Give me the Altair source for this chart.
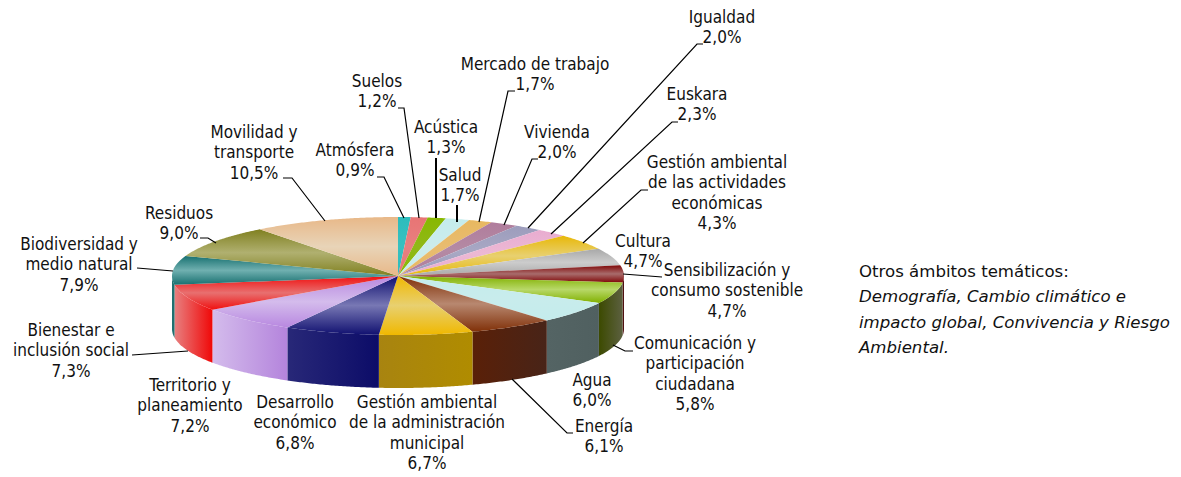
import math
import altair as alt

# ---- data ----
categories = ["Atmósfera", "Suelos", "Acústica", "Salud", "Mercado de trabajo", "Vivienda", "Igualdad", "Euskara",
              "Gestión ambiental\nde las actividades\neconómicas", "Cultura", "Sensibilización y\nconsumo sostenible",
              "Comunicación y\nparticipación\nciudadana", "Agua", "Energía",
              "Gestión ambiental\nde la administración\nmunicipal", "Desarrollo\neconómico", "Territorio y\nplaneamiento",
              "Bienestar e\ninclusión social", "Biodiversidad y\nmedio natural", "Residuos", "Movilidad y\ntransporte"]
values = [0.9, 1.2, 1.3, 1.7, 1.7, 2.0, 2.0, 2.3, 4.3, 4.7, 4.7, 5.8, 6.0, 6.1, 6.7, 6.8, 7.2, 7.3, 7.9, 9.0, 10.5]

# top surface: edge colour, middle colour
top_colors = [("#2cbcbc", "#38c0c0"), ("#e87474", "#e88080"), ("#88b800", "#90b818"), ("#c4ecec", "#ccecec"),
              ("#e8b860", "#e8bc70"), ("#b07c9c", "#b48aa4"), ("#9c9cbc", "#a8a8c4"), ("#e8acd0", "#ecb8d4"),
              ("#e8b808", "#e8d070"), ("#a8a8a8", "#cccccc"), ("#800808", "#a86c6c"), ("#80b000", "#b8d868"),
              ("#c4ecec", "#c8ecec"), ("#803008", "#b88870"), ("#f0b800", "#e8d070"), ("#101070", "#7878b4"),
              ("#b888e0", "#d4bcec"), ("#f01010", "#e87070"), ("#187070", "#70b0b0"), ("#808020", "#b0b070"),
              ("#e8b888", "#e8d4b8")]
# front wall: left colour, right colour
wall_colors = {10: ("#501010", "#501010"), 11: ("#3c4a00", "#5c6040"), 12: ("#546464", "#506060"), 13: ("#5a2008", "#482418"),
               14: ("#a88410", "#b08c00"), 15: ("#282878", "#0c0c68"), 16: ("#d4bcec", "#b484dc"), 17: ("#e88080", "#f00808"),
               18: ("#207070", "#207070")}
note_plain = "Otros ámbitos temáticos:"
note_italic = ["Demografía,  Cambio climático e", "impacto global, Convivencia y Riesgo", "Ambiental."]

# ---- layout, screen pixels ----
M = 8
CX, CY, RX, RY, DEPTH = 398 - M, 276 - M, 226, 59, 53
FONT = "DejaVu Sans Condensed"
FS = 17
NOTE_FONT = "DejaVu Sans"
NOTE_FS = 16.6
LINE = 20.4
label_pos = [(355, 151), (377, 82), (446, 128), (460, 176), (535, 65), (557, 133), (722, 18), (697, 95),
             (717, 163), (643, 242), (727, 271), (695, 344), (592, 381), (604, 427), (427, 403), (295, 403),
             (190, 386), (71, 331), (79, 245), (179, 214), (254, 133)]
leaders = [([(377, 177), (384, 177), (404, 218)], 1.2), ([(398, 108), (404, 108), (419, 218)], 1.2),
           ([(436, 158), (436, 218)], 2), ([(457, 205), (457, 222)], 2),
           ([(515, 91), (508, 91), (479, 222)], 1.2), ([(538, 159), (532, 159), (504, 225)], 1.2),
           ([(703, 44), (697, 44), (528, 228)], 1.2), ([(678, 122), (672, 122), (551, 234)], 1.2),
           ([(648, 190), (641, 190), (583, 243)], 1.2), ([(662, 277), (623, 274)], 1.2),
           ([(633, 351), (625, 351), (613, 345)], 1.2), ([(573, 433), (567, 433), (512, 379)], 1.2),
           ([(200, 238), (208, 238), (216, 243)], 1.2), ([(137, 268), (173, 271)], 1.2),
           ([(132, 355), (188, 351)], 1.2), ([(283, 178), (292, 178), (325, 221)], 1.2)]

total = sum(values)
edges = [0.0]
for v in values:
    edges.append(edges[-1] + v / total * 2 * math.pi)


def pt(t, dy=0.0):
    return [CX + RX * math.sin(t), CY - RY * math.cos(t) + dy]


def arc(a, b, dy=0.0):
    n = max(2, int((b - a) / math.radians(0.5)))
    return [pt(a + (b - a) * i / n, dy) for i in range(n + 1)]


def feature(ring):
    return {"type": "Feature", "properties": {}, "geometry": {"type": "Polygon", "coordinates": [ring + [ring[0]]]}}


proj = alt.Projection(type="identity", scale=1, translate=[0, 0])
layers = []

# walls
for i, (a, b) in enumerate(zip(edges[:-1], edges[1:])):
    lo, hi = max(a, math.pi / 2), min(b, 3 * math.pi / 2)
    if hi <= lo or i not in wall_colors:
        continue
    ring = arc(lo, hi) + arc(lo, hi, DEPTH)[::-1]
    right, left = wall_colors[i][1], wall_colors[i][0]
    grad = {"gradient": "linear", "x1": 0, "x2": 1, "y1": 0, "y2": 0,
            "stops": [{"offset": 0, "color": left}, {"offset": 1, "color": right}]}
    layers.append(alt.Chart(alt.Data(values=[feature(ring)])).mark_geoshape(fill=grad, strokeWidth=0).project(**proj.to_dict()))

# top surface
for i, (a, b) in enumerate(zip(edges[:-1], edges[1:])):
    ring = [[CX, CY]] + arc(a, b)
    e, m = top_colors[i]
    grad = {"gradient": "linear", "x1": 0, "x2": 0, "y1": 0, "y2": 1,
            "stops": [{"offset": 0, "color": e}, {"offset": 0.5, "color": m}, {"offset": 1, "color": e}]}
    layers.append(alt.Chart(alt.Data(values=[feature(ring)])).mark_geoshape(fill=grad, strokeWidth=0).project(**proj.to_dict()))

# leader lines
for k, (pts, w) in enumerate(leaders):
    rows = [{"x": p[0] - M, "y": p[1] - M, "o": j} for j, p in enumerate(pts)]
    layers.append(alt.Chart(alt.Data(values=rows)).mark_line(color="#000000", strokeWidth=w).encode(
        x=alt.X("x:Q", scale=None, axis=None), y=alt.Y("y:Q", scale=None, axis=None), order="o:Q"))

# labels
rows = []
for cat, v, (lx, ly) in zip(categories, values, label_pos):
    lines = cat.split("\n") + [f"{v:.1f}%".replace(".", ",")]
    for j, t in enumerate(lines):
        rows.append({"x": lx - M, "y": ly - M + j * LINE, "t": t})
layers.append(alt.Chart(alt.Data(values=rows)).mark_text(font=FONT, fontSize=FS, color="#111111", align="center", baseline="middle").encode(
    x=alt.X("x:Q", scale=None, axis=None), y=alt.Y("y:Q", scale=None, axis=None), text="t:N"))

# note
layers.append(alt.Chart(alt.Data(values=[{"x": 859 - M, "y": 272 - M, "t": note_plain}])).mark_text(
    font=NOTE_FONT, fontSize=NOTE_FS, color="#111111", align="left", baseline="middle").encode(
    x=alt.X("x:Q", scale=None, axis=None), y=alt.Y("y:Q", scale=None, axis=None), text="t:N"))
rows = [{"x": 859 - M, "y": 297 - M + j * 25.5, "t": t} for j, t in enumerate(note_italic)]
layers.append(alt.Chart(alt.Data(values=rows)).mark_text(
    font=NOTE_FONT, fontSize=NOTE_FS, fontStyle="italic", color="#111111", align="left", baseline="middle").encode(
    x=alt.X("x:Q", scale=None, axis=None), y=alt.Y("y:Q", scale=None, axis=None), text="t:N"))

chart = alt.layer(*layers).properties(width=1165, height=468, padding=0, autosize=alt.AutoSizeParams(type="none")).configure_view(stroke=None)
chart.save("out.html", embed_options={"renderer": "svg", "actions": False})
